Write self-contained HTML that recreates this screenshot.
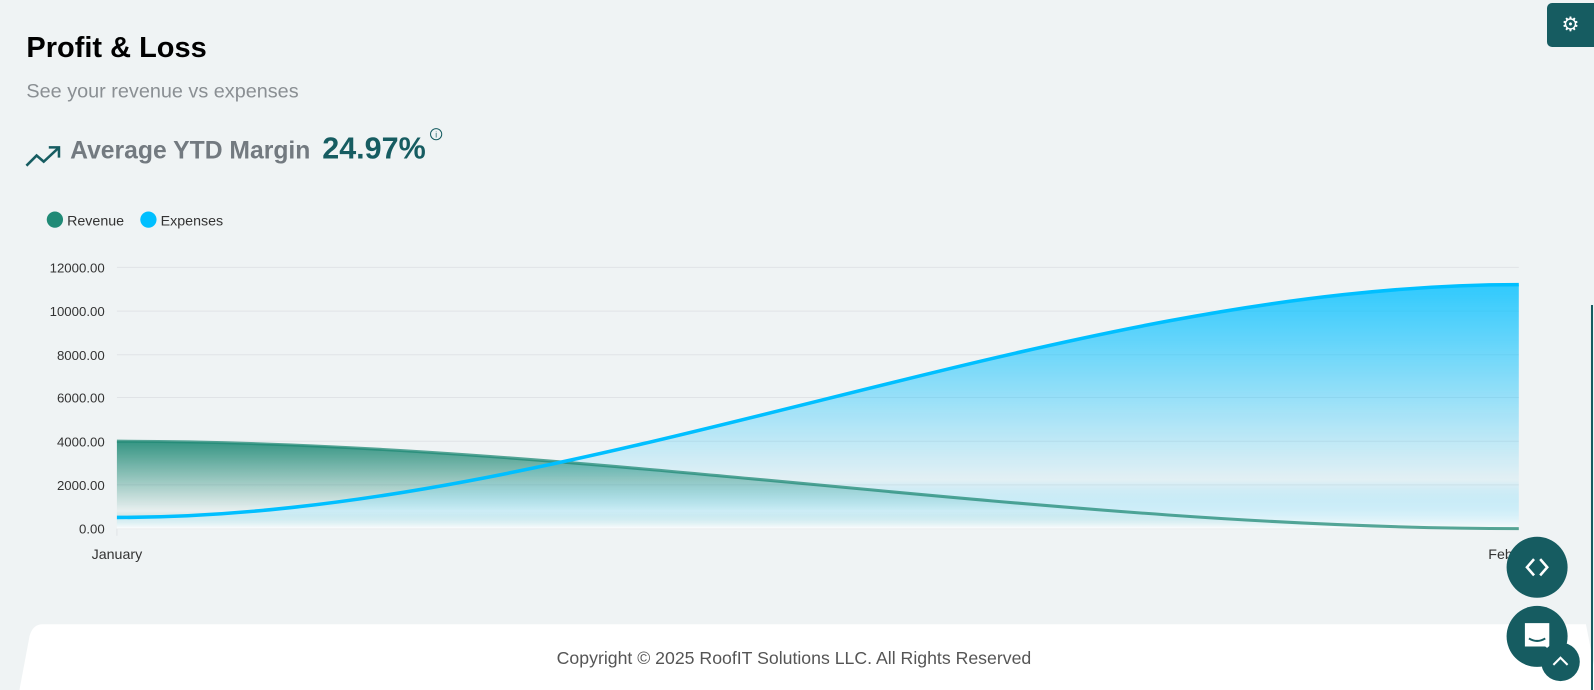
<!DOCTYPE html>
<html><head><style>
body{margin:0;width:1594px;height:690px;background:#eff3f4;font-family:"Liberation Sans",sans-serif;position:relative;overflow:hidden}
#w{position:absolute;left:0;top:0;width:1568px;height:679px;transform:scale(1.0166);transform-origin:0 0}
.t{position:absolute;left:26px;top:31px;font-size:28.5px;font-weight:bold;color:#000}
.s{position:absolute;left:26px;top:79px;font-size:19.5px;color:#8a8f93}
.m{position:absolute;left:69px;top:135px;font-size:24.3px;font-weight:bold;color:#737a80}
.v{position:absolute;left:317px;top:130px;font-size:30px;font-weight:bold;color:#165c61}
.lg{position:absolute;top:209px;font-size:14px;color:#333}
.dot{position:absolute;top:208px;width:16px;height:16px;border-radius:50%}
.btn{position:absolute;background:#165c61;border-radius:50%}
</style></head><body>
<div id="w">
<div class="t">Profit &amp; Loss</div>
<div class="s">See your revenue vs expenses</div>
<svg style="position:absolute;left:25px;top:142px" width="36" height="24"><polyline points="1,21 11,11 18,17 32,4" fill="none" stroke="#165c61" stroke-width="2.5"/><polyline points="23,3 33,3 33,13" fill="none" stroke="#165c61" stroke-width="2.5"/></svg>
<div class="m">Average YTD Margin</div>
<div class="v">24.97%</div>
<svg style="position:absolute;left:422px;top:125px" width="14" height="14"><circle cx="7" cy="7" r="5.5" fill="none" stroke="#165c61" stroke-width="1"/><text x="7" y="10.5" font-size="8" text-anchor="middle" fill="#165c61" font-family="Liberation Sans">i</text></svg>
<div class="dot" style="left:46px;background:#208a76"></div><div class="lg" style="left:66px">Revenue</div>
<div class="dot" style="left:138px;background:#00bfff"></div><div class="lg" style="left:158px">Expenses</div>
<svg style="position:absolute;left:0;top:0" width="1568" height="679">
<defs>
<linearGradient id="g" x1="0" y1="434" x2="0" y2="520" gradientUnits="userSpaceOnUse"><stop offset="0" stop-color="#208a76" stop-opacity="0.9"/><stop offset="0.8" stop-color="#208a76" stop-opacity="0.03"/><stop offset="1" stop-color="#fff" stop-opacity="0.5"/></linearGradient>
<linearGradient id="b" x1="0" y1="280" x2="0" y2="520" gradientUnits="userSpaceOnUse"><stop offset="0" stop-color="#00bfff" stop-opacity="0.8"/><stop offset="0.8" stop-color="#00bfff" stop-opacity="0.05"/><stop offset="1" stop-color="#fff" stop-opacity="0.6"/></linearGradient>
</defs>
<g stroke="#e0e3e6" stroke-width="1">
<line x1="115" x2="1494" y1="263" y2="263"/><line x1="115" x2="1494" y1="306" y2="306"/><line x1="115" x2="1494" y1="349" y2="349"/><line x1="115" x2="1494" y1="391" y2="391"/><line x1="115" x2="1494" y1="434" y2="434"/><line x1="115" x2="1494" y1="477" y2="477"/><line x1="115" x2="1494" y1="520" y2="520"/><line x1="115" x2="115" y1="520" y2="527"/>
</g>
<g font-size="13" fill="#333" text-anchor="end" font-family="Liberation Sans">
<text x="103" y="268">12000.00</text><text x="103" y="311">10000.00</text><text x="103" y="354">8000.00</text><text x="103" y="396">6000.00</text><text x="103" y="439">4000.00</text><text x="103" y="482">2000.00</text><text x="103" y="525">0.00</text>
</g>
<text x="115" y="550" font-size="14" fill="#333" text-anchor="middle">January</text>
<text x="1464" y="550" font-size="14" fill="#333">Feb</text>
<path d="M115,434 C575,434 1034,520 1494,520 L1494,520 L115,520Z" fill="url(#g)"/>
<path d="M115,509 C575,509 1034,280 1494,280 L1494,520 L115,520Z" fill="url(#b)"/>
<path d="M115,434 C575,434 1034,520 1494,520" fill="none" stroke="#208a76" stroke-width="3" stroke-opacity="0.75"/>
<path d="M115,509 C575,509 1034,280 1494,280" fill="none" stroke="#00bfff" stroke-width="3.5"/>
<path d="M42,614 L1560,614 L1575,690 L17,690 L29,626 Q32,614 42,614Z" fill="#fff"/>
<line x1="1566" y1="300" x2="1566" y2="690" stroke="#165c61" stroke-width="2"/>
</svg>
<div style="position:absolute;left:0;width:1568px;top:637px;text-align:center;font-size:17.4px;color:#555">
<span style="position:relative;left:-3px">Copyright © 2025 RoofIT Solutions LLC. All Rights Reserved</span></div>
<div class="btn" style="left:1482px;top:528px;width:60px;height:60px"><svg width="60" height="60"><polyline points="27,22 20,30 27,38" fill="none" stroke="#fff" stroke-width="2.5"/><polyline points="33,22 40,30 33,38" fill="none" stroke="#fff" stroke-width="2.5"/></svg></div>
<div class="btn" style="left:1482px;top:596px;width:60px;height:60px"><svg width="60" height="60"><path d="M18,17 h24 v26 l-4,-3 h-20z" fill="#fff"/><path d="M22,32 Q30,37 38,32" fill="none" stroke="#165c61" stroke-width="2"/></svg></div>
<div class="btn" style="left:1516px;top:632px;width:38px;height:38px"><svg width="38" height="38"><polyline points="12,22 19,15 26,22" fill="none" stroke="#fff" stroke-width="2"/></svg></div>
</div>
<div style="position:absolute;left:1547px;top:3px;width:47px;height:44px;background:#165c61;border-radius:5px 0 0 5px;color:#fff;font-size:20px;line-height:44px;text-align:center">⚙</div>
</body></html>
